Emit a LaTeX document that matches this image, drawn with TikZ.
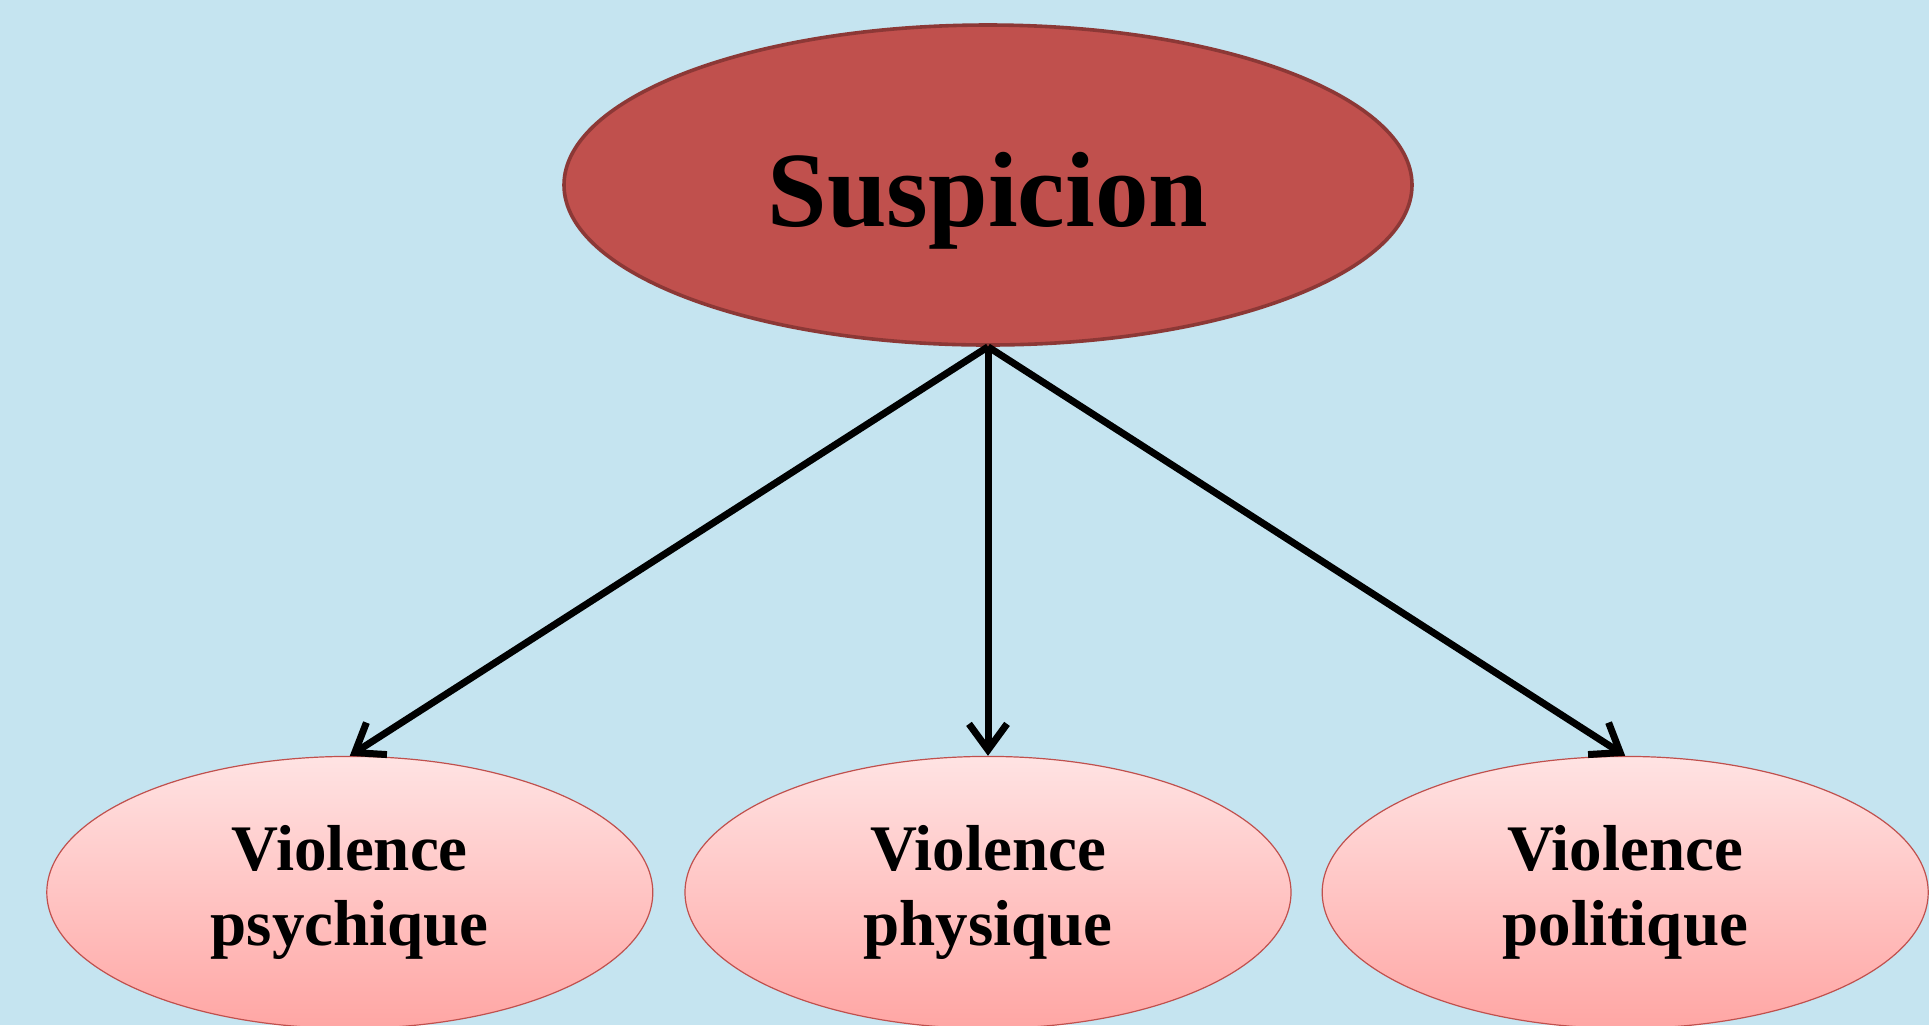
\documentclass[tikz,border=0pt]{standalone}
\usepackage{fontspec}
\setmainfont{Liberation Serif}
\usepackage{xcolor}
\usetikzlibrary{arrows.meta, positioning, shapes.geometric}

\definecolor{skyback}{HTML}{C5E4F0}
\definecolor{rootfill}{HTML}{C0504D}
\definecolor{rootline}{HTML}{8C3836}
\definecolor{leaftop}{HTML}{FFE3E3}
\definecolor{leafbottom}{HTML}{FFA6A4}

\begin{document}
\begin{tikzpicture}[
    x=0.5pt, y=-0.5pt,
    root/.style={ellipse, draw=rootline, line width=1.8pt, fill=rootfill, inner sep=0pt,
      minimum width=424pt, minimum height=160pt, font=\fontsize{53.5}{64}\selectfont\bfseries},
    leaf/.style={ellipse, draw=rootfill, line width=0.6pt, top color=leaftop, bottom color=leafbottom,
      inner sep=0pt, minimum width=303pt, minimum height=136pt, align=center,
      font=\fontsize{32.5}{37.5}\selectfont\bfseries},
    arrow/.style={-{Straight Barb[length=13pt, width=19pt, line width=3.5pt]}, line width=3.5pt}
]
  % Background
  \fill[skyback] (0,0) rectangle (1929,1025);
  \useasboundingbox (0,0) rectangle (1929,1025);

  % Root
  \node[root] (susp) at (988,185) {\raisebox{-8pt}[\height][\depth]{Suspicion}};

  % Leaves
  \node[leaf, below=204.5pt of susp] (phys) {Violence\\physique};
  \node[leaf, left=15.5pt of phys] (psy) {Violence\\psychique};
  \node[leaf, right=15pt of phys] (poli) {Violence\\politique};

  % Arrows
  \draw[arrow] (susp.south) -- (psy.north);
  \draw[arrow] (susp.south) -- (phys.north);
  \draw[arrow] (susp.south) -- (poli.north);
\end{tikzpicture}
\end{document}
